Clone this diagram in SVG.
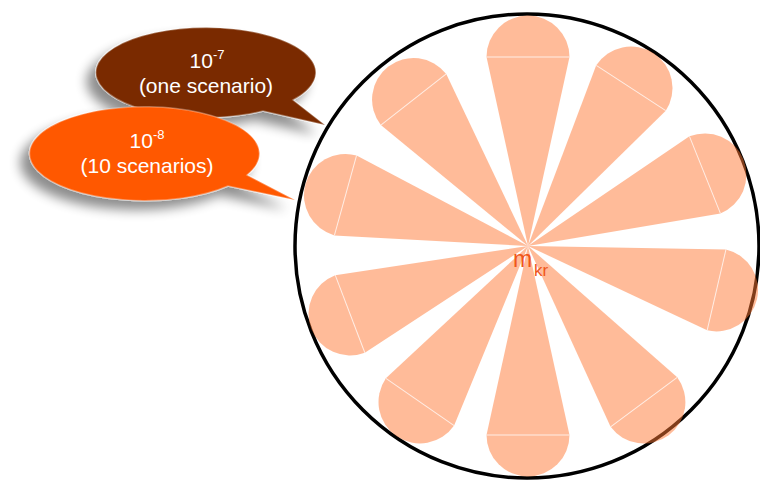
<svg xmlns="http://www.w3.org/2000/svg" width="760" height="484" viewBox="0 0 760 484">
<defs>
<style>
.petal{fill:#FF7733;fill-opacity:0.5}
.chord{stroke:#ffffff;stroke-opacity:0.75;stroke-width:1;fill:none}
.btxt{font-family:"Liberation Sans",Arial,sans-serif;font-size:21px;fill:#ffffff;text-anchor:middle}
.sup{font-size:13px}
.rim{stroke:#ffffff;stroke-opacity:0.3;stroke-width:1.5}
</style>
<filter id="shadow" x="-30%" y="-40%" width="160%" height="190%">
<feGaussianBlur in="SourceAlpha" stdDeviation="6"/>
<feOffset dx="-9" dy="9" result="b"/>
<feComponentTransfer><feFuncA type="linear" slope="0.45"/></feComponentTransfer>
<feMerge><feMergeNode/><feMergeNode in="SourceGraphic"/></feMerge>
</filter>
</defs>
<rect width="760" height="484" fill="#ffffff"/>
<g id="boundary">
<circle cx="527" cy="246" r="232" fill="none" stroke="#000000" stroke-width="3.5"/>
</g>
<g id="petals">
<g id="petal-0" transform="translate(528 246) rotate(0)"><path class="petal" d="M0 0 L-41.5 -189 A41.5 41.5 0 0 1 41.5 -189 Z"/><path class="chord" d="M-41.5 -189 H41.5"/></g>
<g id="petal-1" transform="translate(528 246) rotate(33.1)"><path class="petal" d="M0 0 L-41.5 -188.6 A41.5 41.5 0 0 1 41.5 -188.6 Z"/><path class="chord" d="M-41.5 -188.6 H41.5"/></g>
<g id="petal-2" transform="translate(528 246) rotate(68.1)"><path class="petal" d="M0 0 L-41.5 -190.7 A41.5 41.5 0 0 1 41.5 -190.7 Z"/><path class="chord" d="M-41.5 -190.7 H41.5"/></g>
<g id="petal-3" transform="translate(528 246) rotate(103.1)"><path class="petal" d="M0 0 L-41.5 -193.6 A41.5 41.5 0 0 1 41.5 -193.6 Z"/><path class="chord" d="M-41.5 -193.6 H41.5"/></g>
<g id="petal-4" transform="translate(528 246) rotate(143.4)"><path class="petal" d="M0 0 L-41.5 -194.4 A41.5 41.5 0 0 1 41.5 -194.4 Z"/><path class="chord" d="M-41.5 -194.4 H41.5"/></g>
<g id="petal-5" transform="translate(528 246) rotate(180)"><path class="petal" d="M0 0 L-41.5 -189 A41.5 41.5 0 0 1 41.5 -189 Z"/><path class="chord" d="M-41.5 -189 H41.5"/></g>
<g id="petal-6" transform="translate(528 246) rotate(214.7)"><path class="petal" d="M0 0 L-41.5 -189.7 A41.5 41.5 0 0 1 41.5 -189.7 Z"/><path class="chord" d="M-41.5 -189.7 H41.5"/></g>
<g id="petal-7" transform="translate(528 246) rotate(249.1)"><path class="petal" d="M0 0 L-41.5 -190.5 A41.5 41.5 0 0 1 41.5 -190.5 Z"/><path class="chord" d="M-41.5 -190.5 H41.5"/></g>
<g id="petal-8" transform="translate(528 246) rotate(285.5)"><path class="petal" d="M0 0 L-41.5 -189.4 A41.5 41.5 0 0 1 41.5 -189.4 Z"/><path class="chord" d="M-41.5 -189.4 H41.5"/></g>
<g id="petal-9" transform="translate(528 246) rotate(322)"><path class="petal" d="M0 0 L-41.5 -185.9 A41.5 41.5 0 0 1 41.5 -185.9 Z"/><path class="chord" d="M-41.5 -185.9 H41.5"/></g>
</g>
<g id="center-label">
<text x="513" y="267" font-family="'Liberation Sans',Arial,sans-serif" font-size="23" fill="#F0561A">m<tspan x="534" y="276" font-size="17">kr</tspan></text>
</g>
<g id="bubble-one-scenario">
<path filter="url(#shadow)" class="rim" fill="#7A2C00" d="M293 100 L325 125 L263 111 A110 45 0 1 1 293 100 Z"/>
<text class="btxt" x="207" y="68">10<tspan class="sup" dy="-9">-7</tspan></text>
<text class="btxt" x="206" y="93">(one scenario)</text>
</g>
<g id="bubble-ten-scenarios">
<path filter="url(#shadow)" class="rim" fill="#FF5800" d="M247 175 L295 200 L228 186 A115 47 0 1 1 247 175 Z"/>
<text class="btxt" x="147" y="148">10<tspan class="sup" dy="-9">-8</tspan></text>
<text class="btxt" x="147" y="173">(10 scenarios)</text>
</g>
</svg>
